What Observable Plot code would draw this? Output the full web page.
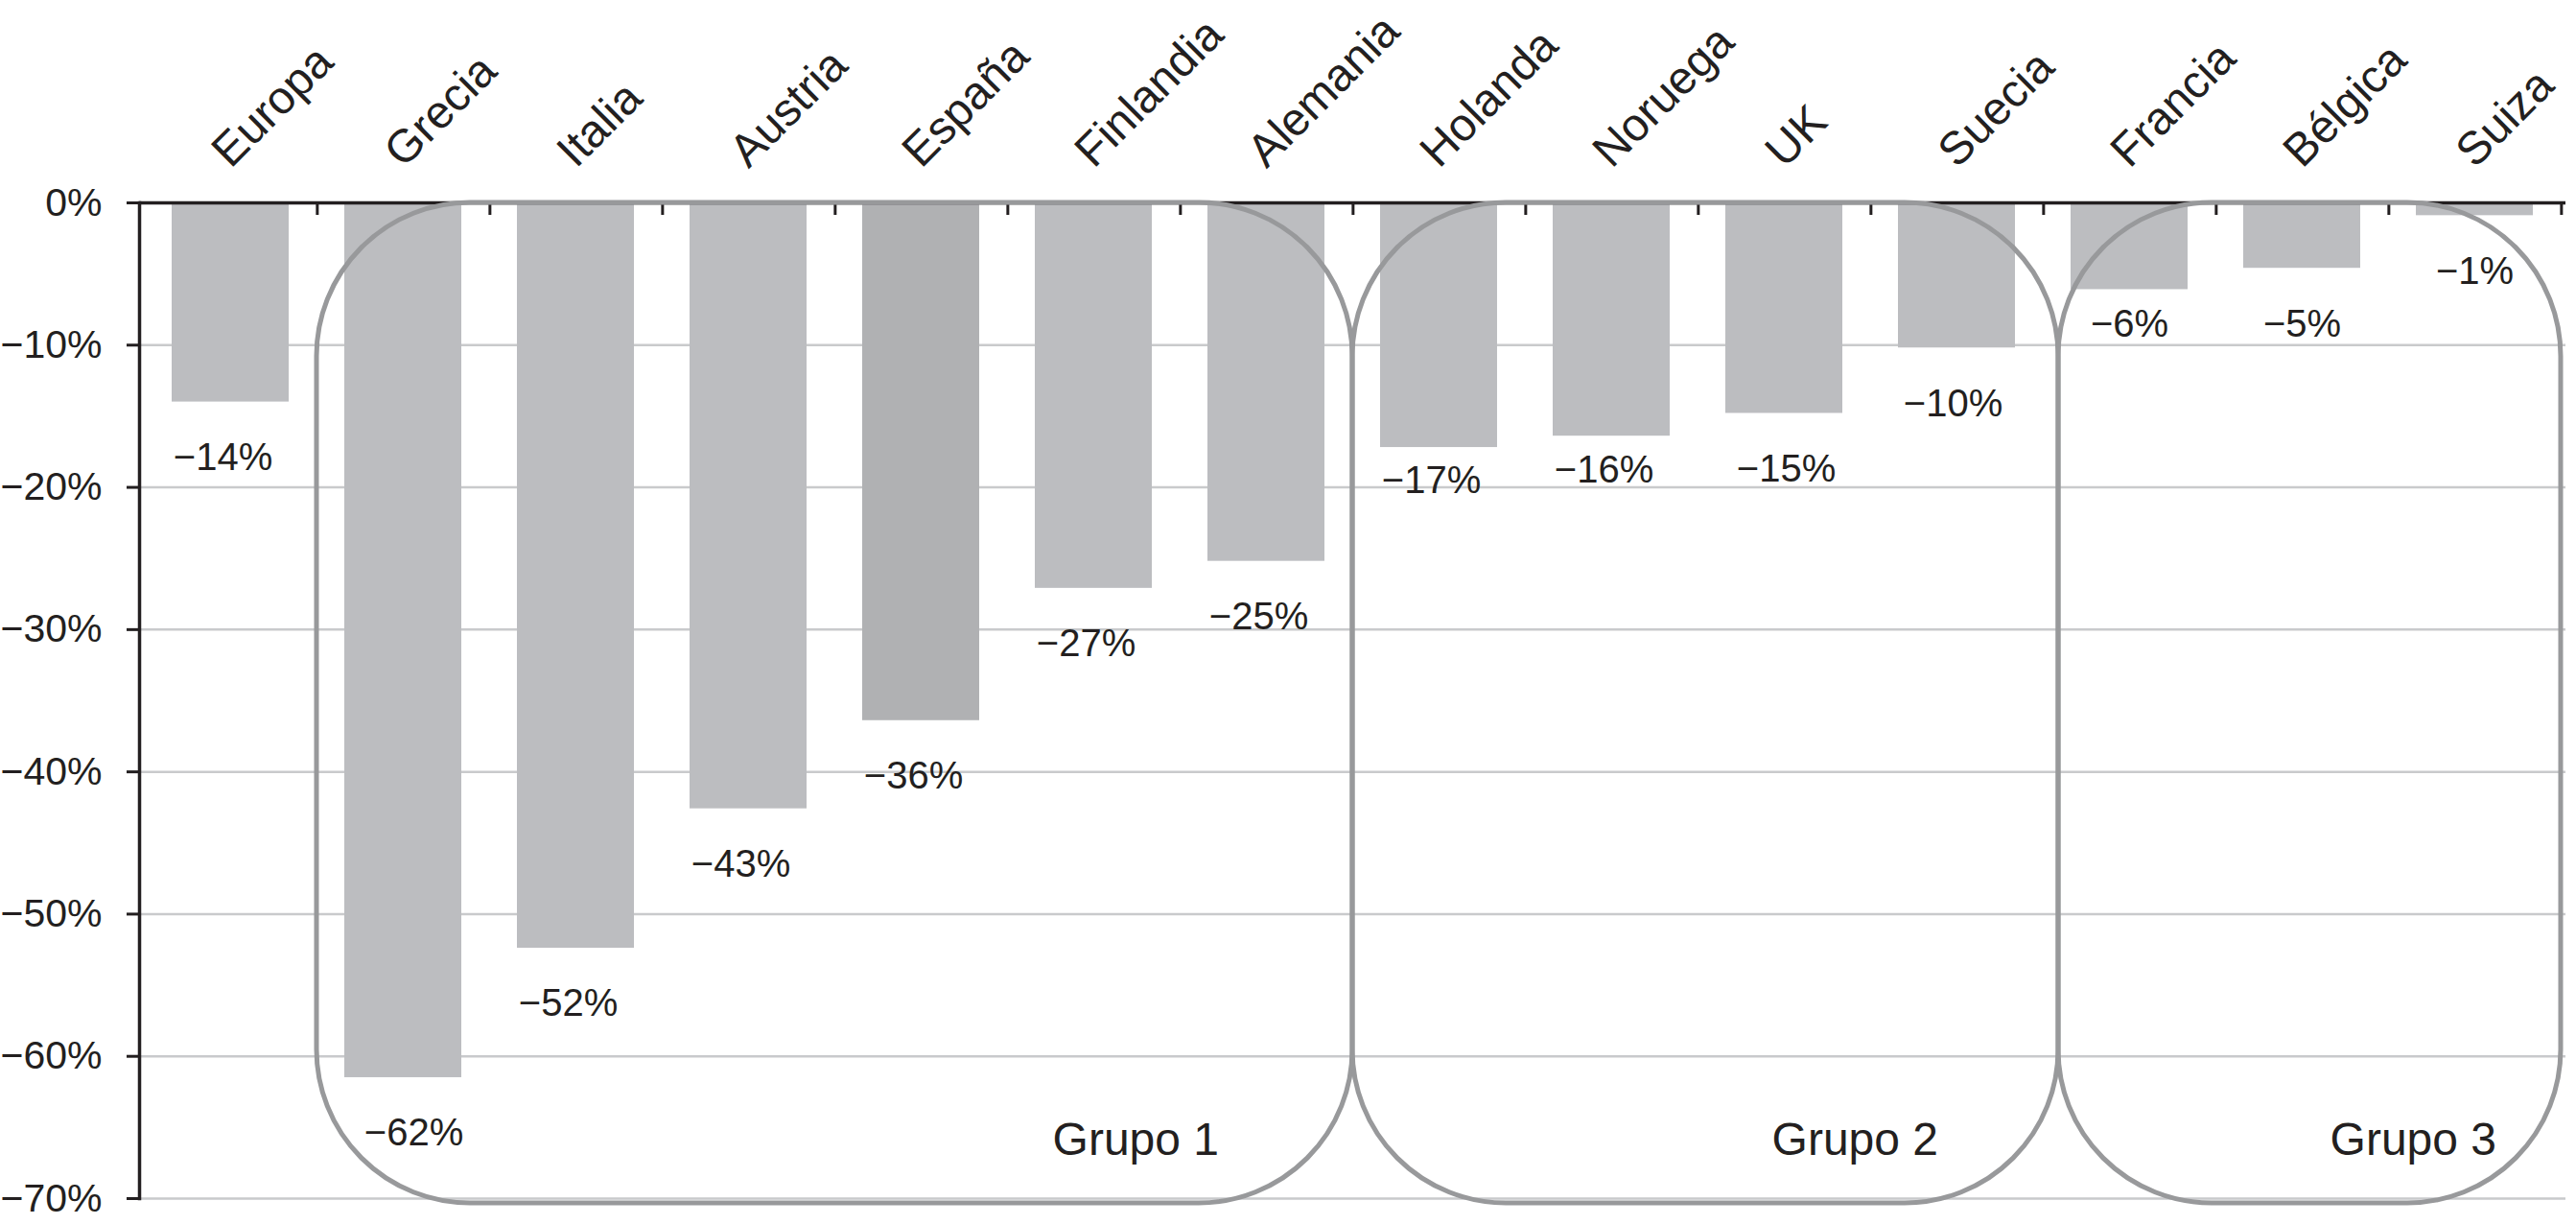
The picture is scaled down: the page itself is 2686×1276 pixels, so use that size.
<!DOCTYPE html>
<html><head><meta charset="utf-8">
<script src="https://cdn.jsdelivr.net/npm/d3@7"></script>
<script src="https://cdn.jsdelivr.net/npm/@observablehq/plot@0.6"></script>
<style>
html,body{margin:0;padding:0;background:#fff;}
#chart svg{display:block;}
</style></head><body><div id="chart"></div>
<script>
// ---- data ----
const categories = ["Europa","Grecia","Italia","Austria","España","Finlandia","Alemania","Holanda","Noruega","UK","Suecia","Francia","Bélgica","Suiza"];
const values = [-14.0,-61.5,-52.4,-42.6,-36.4,-27.1,-25.2,-17.2,-16.4,-14.8,-10.2,-6.1,-4.6,-0.9];
const valueLabels = ["−14%","−62%","−52%","−43%","−36%","−27%","−25%","−17%","−16%","−15%","−10%","−6%","−5%","−1%"];
const highlighted = ["España"];
const yTicks = [0,-10,-20,-30,-40,-50,-60,-70];
const groupNames = ["Grupo 1","Grupo 2","Grupo 3"];
const groupFirst = ["Grecia","Holanda","Francia"];
const groupLast = ["Alemania","Suecia","Suiza"];

// ---- layout / style ----
const W = 2686, H = 1276, mL = 145, mR = 11, mT = 211, mB = 27;
const step = (W - mL - mR) / categories.length;
const font = "'Liberation Sans', Arial, Helvetica, sans-serif";
const ink = "#231f20";
const boxStroke = "#98999b";
const fmt = d => d === 0 ? "0%" : "−" + Math.abs(d) + "%";
const labelRightOffset = [139, 125, 67];
const edgeShift = [[0, 0], [0, 16], [16, 0]];
// per-label nudges of the value labels (px), keyed by country
const labelDy = {Holanda: -23, Noruega: -23, Francia: -22};
const labelDxDefault = -8;
const labelDx = {Grecia: 11, UK: 2, Suecia: -4, Francia: 0, "Bélgica": 0, Suiza: 0};

const rows = categories.map((c, i) => ({country: c, value: values[i], label: valueLabels[i]}));

const boxes = (index, scales) => {
  const sx = scales.x, sy = scales.y;
  const bw = typeof sx.bandwidth === "function" ? sx.bandwidth() : sx.bandwidth;
  const st = sx(categories[1]) - sx(categories[0]);
  const half = (st - bw) / 2;
  const g = d3.create("svg:g");
  groupNames.forEach((name, i) => {
    const x1 = sx(groupFirst[i]) - half + edgeShift[i][0];
    const x2 = sx(groupLast[i]) + bw + half + edgeShift[i][1];
    const y1 = sy(0), y2 = sy(-70) + 5;
    g.append("rect").attr("x", x1).attr("y", y1).attr("width", x2 - x1).attr("height", y2 - y1)
      .attr("rx", 160).attr("ry", 160).attr("fill", "none").attr("stroke", boxStroke).attr("stroke-width", 5);
    g.append("text").attr("x", x2 - labelRightOffset[i]).attr("y", sy(-70) - 62).attr("dy", "0.35em")
      .attr("text-anchor", "end").attr("font-size", 48).attr("fill", ink).attr("font-family", font).text(name);
  });
  return g.node();
};

const valueLabelMarks = rows.map(r => Plot.text([r], {
  x: "country", y: "value", text: "label",
  dy: 58 + (labelDy[r.country] || 0),
  dx: r.country in labelDx ? labelDx[r.country] : labelDxDefault,
  fontSize: 40, fill: ink
}));

const chart = Plot.plot({
  width: W, height: H, marginLeft: mL, marginRight: mR, marginTop: mT, marginBottom: mB,
  style: {fontFamily: font, background: "#fff", color: ink, overflow: "visible"},
  x: {type: "band", domain: categories, paddingInner: 0.32, paddingOuter: 0.16, axis: null},
  y: {domain: [-70, 0], axis: null},
  color: {type: "identity"},
  marks: [
    Plot.gridY(yTicks.filter(d => d !== 0), {stroke: "#c9cacc", strokeOpacity: 1, strokeWidth: 2.5}),
    Plot.barY(rows, {x: "country", y: "value", fill: d => highlighted.includes(d.country) ? "#b0b1b3" : "#bcbdc0"}),
    Plot.ruleY([0], {stroke: ink, strokeWidth: 3.5}),
    Plot.frame({anchor: "left", stroke: ink, strokeWidth: 3.5}),
    Plot.axisY({ticks: yTicks, tickFormat: fmt, label: null, tickSize: 13, tickPadding: 26, fontSize: 41, stroke: ink, strokeWidth: 3, fill: ink}),
    Plot.ruleX(categories, {x: d => d, y1: 0, y2: 0, insetBottom: -13, dx: step / 2, stroke: ink, strokeWidth: 3}),
    boxes,
    ...valueLabelMarks,
    Plot.text(categories, {x: d => d, frameAnchor: "top", text: d => d, rotate: -45, textAnchor: "start", lineAnchor: "bottom", dx: 0, dy: -35, fontSize: 48, fill: ink})
  ]
});
document.getElementById("chart").appendChild(chart);
</script>
</body></html>
